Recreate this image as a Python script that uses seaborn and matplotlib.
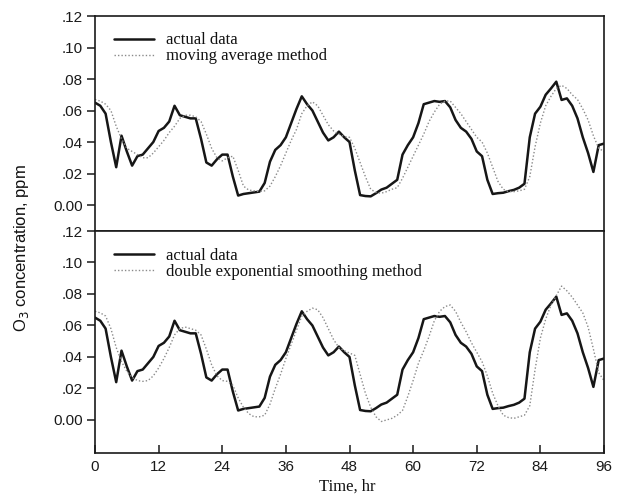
import numpy as np
import pandas as pd
import matplotlib
matplotlib.use("Agg")
import matplotlib.pyplot as plt
import seaborn as sns

# Hourly ozone series, hours 0..96
hours = list(range(97))

actual = [
    0.065, 0.063, 0.058, 0.040, 0.024, 0.044, 0.034, 0.025, 0.031, 0.032,
    0.036, 0.040, 0.047, 0.049, 0.053, 0.063, 0.057, 0.056, 0.055, 0.055,
    0.042, 0.027, 0.025, 0.029, 0.032, 0.032, 0.018, 0.006, 0.007, 0.0075,
    0.008, 0.0085, 0.014, 0.0275, 0.035, 0.038, 0.043, 0.052, 0.061, 0.069,
    0.064, 0.060, 0.053, 0.046, 0.041, 0.043, 0.0466, 0.043, 0.040, 0.022,
    0.0063, 0.0057, 0.0055, 0.0075, 0.0098, 0.011, 0.0135, 0.016, 0.032, 0.038,
    0.043, 0.052, 0.064, 0.065, 0.066, 0.0655, 0.066, 0.062, 0.054, 0.049,
    0.0466, 0.042, 0.034, 0.031, 0.016, 0.007, 0.0075, 0.0078, 0.0088, 0.0096,
    0.011, 0.0135, 0.043, 0.058, 0.0624, 0.070, 0.074, 0.0783, 0.0667, 0.0677,
    0.063, 0.055, 0.043, 0.033, 0.021, 0.038, 0.039,
]

moving_avg = [
    0.067, 0.066, 0.064, 0.060, 0.050, 0.042, 0.036, 0.034, 0.032, 0.030,
    0.030, 0.033, 0.037, 0.041, 0.046, 0.050, 0.055, 0.057, 0.057, 0.056,
    0.053, 0.045, 0.036, 0.030, 0.028, 0.030, 0.031, 0.022, 0.012, 0.0095,
    0.009, 0.0085, 0.009, 0.012, 0.018, 0.025, 0.033, 0.041, 0.048, 0.058,
    0.063, 0.0655, 0.063, 0.057, 0.051, 0.047, 0.045, 0.0435, 0.043, 0.036,
    0.027, 0.018, 0.010, 0.008, 0.0075, 0.0085, 0.010, 0.011, 0.017, 0.024,
    0.031, 0.038, 0.045, 0.053, 0.059, 0.064, 0.066, 0.066, 0.062, 0.058,
    0.053, 0.048, 0.043, 0.040, 0.033, 0.024, 0.015, 0.010, 0.0085, 0.0085,
    0.009, 0.010, 0.018, 0.037, 0.052, 0.063, 0.069, 0.074, 0.076, 0.074,
    0.070, 0.067, 0.061, 0.054, 0.044, 0.036, 0.034,
]

double_exp = [
    0.069, 0.068, 0.066, 0.058, 0.046, 0.037, 0.031, 0.027, 0.025, 0.0245,
    0.025, 0.028, 0.033, 0.039, 0.046, 0.054, 0.058, 0.059, 0.058, 0.057,
    0.054, 0.045, 0.035, 0.028, 0.025, 0.0245, 0.022, 0.014, 0.008, 0.004,
    0.002, 0.002, 0.003, 0.010, 0.020, 0.029, 0.039, 0.048, 0.057, 0.066,
    0.069, 0.071, 0.070, 0.065, 0.058, 0.051, 0.046, 0.044, 0.0425, 0.041,
    0.029, 0.017, 0.008, 0.002, -0.001, 0.000, 0.001, 0.003, 0.006, 0.015,
    0.025, 0.036, 0.044, 0.053, 0.063, 0.069, 0.072, 0.073, 0.069, 0.062,
    0.056, 0.049, 0.043, 0.037, 0.028, 0.017, 0.009, 0.003, 0.0015, 0.001,
    0.002, 0.003, 0.009, 0.032, 0.052, 0.064, 0.073, 0.079, 0.085, 0.082,
    0.078, 0.073, 0.068, 0.059, 0.045, 0.030, 0.025,
]

y_ticks = [0.00, 0.02, 0.04, 0.06, 0.08, 0.10, 0.12]
y_tick_labels = ["0.00", ".02", ".04", ".06", ".08", ".10", ".12"]
x_ticks = [0, 12, 24, 36, 48, 60, 72, 84, 96]

sns.set_style("ticks")
plt.rcParams["font.family"] = ["Liberation Sans", "DejaVu Sans"]

df = pd.DataFrame({
    "hour": hours,
    "actual": actual,
    "moving": moving_avg,
    "double": double_exp,
})

fig = plt.figure(figsize=(6.23, 4.96), dpi=100)
L, R = 95 / 623, 604 / 623
ax_top = fig.add_axes([L, 1 - 231 / 496, R - L, 215 / 496])
ax_bot = fig.add_axes([L, 1 - 453 / 496, R - L, 222 / 496])

solid_kw = dict(color="#161616", linewidth=1.8)
dot_kw = dict(color="#8a8a8a", linewidth=1.0, linestyle=(0, (1, 1.5)))

serif = ["Liberation Serif", "DejaVu Serif"]

panels = [
    (ax_top, "moving", "moving average method", (-0.0165, 0.12)),
    (ax_bot, "double", "double exponential smoothing method", (-0.021, 0.12)),
]

for ax, col, label, ylim in panels:
    sns.lineplot(data=df, x="hour", y="actual", ax=ax, label="actual data", **solid_kw)
    sns.lineplot(data=df, x="hour", y=col, ax=ax, label=label, **dot_kw)
    ax.set_xlim(0, 96)
    ax.set_ylim(*ylim)
    ax.set_yticks(y_ticks)
    ax.set_yticklabels(y_tick_labels)
    ax.set_xlabel("")
    ax.set_ylabel("")
    for s in ax.spines.values():
        s.set_visible(True)
        s.set_linewidth(1.2)
        s.set_color("#1a1a1a")
    ax.tick_params(axis="y", direction="out", length=6, width=1.1,
                   labelsize=11, colors="#1a1a1a", pad=3)
    leg = ax.legend(loc="upper left", frameon=False,
                    prop={"family": serif, "size": 12},
                    handlelength=2.4, handletextpad=0.7, labelspacing=0.0,
                    borderaxespad=0.0, bbox_to_anchor=(0.025, 0.955))
    for t in leg.get_texts():
        t.set_color("#111111")

ax_top.set_xticks([])
ax_bot.set_xticks(x_ticks)
ax_bot.set_xticklabels([str(v) for v in x_ticks])
ax_bot.tick_params(axis="x", direction="in", length=6, width=1.1,
                   labelsize=11, colors="#1a1a1a", pad=5)

fig.text(347 / 623, 1 - 487 / 496, "Time, hr", ha="center", va="center",
         fontsize=12, family=serif, color="#111111")
fig.text(22 / 623, 1 - 248 / 496, "O$_3$ concentration, ppm", rotation=90,
         ha="center", va="center", fontsize=12, color="#111111")

fig.savefig("out.png", dpi=100)
